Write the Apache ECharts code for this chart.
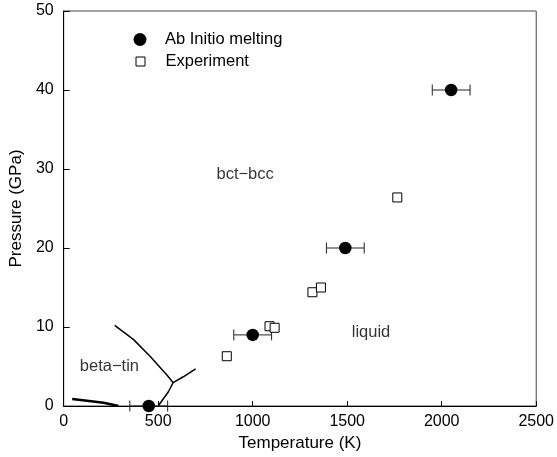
<!DOCTYPE html>
<html>
<head>
<meta charset="utf-8">
<script src="https://cdn.jsdelivr.net/npm/echarts@6/dist/echarts.min.js"></script>
<style>
html,body{margin:0;padding:0;background:#fff;}
#chart{width:557px;height:457px;}
</style>
</head>
<body>
<div id="chart"></div>
<script>
// ---- Data ----
const abInitioT = [450, 1000, 1490, 2050];
const abInitioP = [0, 9, 20, 40];
const abInitioErrT = [100, 100, 100, 100];

const expT = [863, 1089, 1116, 1316, 1361, 1765];
const expP = [6.3, 10.1, 9.9, 14.4, 15.0, 26.4];

// phase boundaries (T in K, P in GPa)
const lineAlphaT = [45, 212, 290];
const lineAlphaP = [0.9, 0.42, 0];
const lineBetaBctT = [270, 370, 458, 546, 579];
const lineBetaBctP = [10.2, 8.4, 6.26, 3.93, 2.96];
const lineBctLiqT = [579, 633, 698];
const lineBctLiqP = [2.96, 3.7, 4.7];
const lineBetaLiqT = [500, 554, 579];
const lineBetaLiqP = [0, 1.8, 2.96];

const regionNames = ['beta\u2212tin', 'bct\u2212bcc', 'liquid'];
const regionT = [242, 960, 1626];
const regionP = [4.95, 29.3, 9.26];

const xTicks = [0, 500, 1000, 1500, 2000, 2500];
const yTicks = [0, 10, 20, 30, 40, 50];

// ---- Build ----
const zip = (a, b) => a.map((v, i) => [v, b[i]]);
const FONT = 'Liberation Sans, Arial, Helvetica, sans-serif';

const lineStyleSeries = (name, T, P, w) => ({
  name: name, type: 'line', data: zip(T, P), showSymbol: false, symbol: 'none',
  lineStyle: { color: '#000', width: w }, silent: true, z: 3, animation: false
});

const chart = echarts.init(document.getElementById('chart'), null, { renderer: 'canvas' });
chart.setOption({
  animation: false,
  backgroundColor: '#fff',
  textStyle: { fontFamily: FONT },
  grid: { left: 63, right: 19, top: 11, bottom: 51, show: true, borderColor: '#444', borderWidth: 1 },
  legend: [
    {
      left: 133.5, top: 31, padding: 0, itemWidth: 13, itemHeight: 13,
      textStyle: { fontFamily: FONT, fontSize: 16.5, color: '#000', padding: [0, 0, 0, 13.5] },
      data: [{ name: 'Ab Initio melting', icon: 'circle', itemStyle: { color: '#000', opacity: 1 } }],
      selectedMode: false
    },
    {
      left: 135.5, top: 53, padding: 0, itemWidth: 9, itemHeight: 9,
      textStyle: { fontFamily: FONT, fontSize: 16.5, color: '#000', padding: [0, 0, 0, 15.5] },
      data: [{ name: 'Experiment', icon: 'rect', itemStyle: { color: '#fff', borderColor: '#000', borderWidth: 1, opacity: 1 } }],
      selectedMode: false
    }
  ],
  xAxis: {
    type: 'value', min: xTicks[0], max: xTicks[xTicks.length - 1], interval: 500,
    name: 'Temperature (K)', nameLocation: 'middle', nameGap: 28,
    nameTextStyle: { fontFamily: FONT, fontSize: 17, color: '#000' },
    axisLine: { lineStyle: { color: '#000', width: 1 } },
    axisTick: { inside: true, length: 5, lineStyle: { color: '#000' } },
    axisLabel: { margin: 8, fontFamily: FONT, fontSize: 16, color: '#000', formatter: v => String(v) },
    splitLine: { show: false }
  },
  yAxis: {
    type: 'value', min: yTicks[0], max: yTicks[yTicks.length - 1], interval: 10,
    name: 'Pressure (GPa)', nameLocation: 'middle', nameGap: 36,
    nameTextStyle: { fontFamily: FONT, fontSize: 17, color: '#000' },
    axisLine: { lineStyle: { color: '#000', width: 1 } },
    axisTick: { inside: true, length: 6, lineStyle: { color: '#000' } },
    axisLabel: { margin: 10, fontFamily: FONT, fontSize: 16, color: '#000', formatter: v => String(v) },
    splitLine: { show: false }
  },
  series: [
    lineStyleSeries('a', lineAlphaT, lineAlphaP, 2.5),
    lineStyleSeries('b', lineBetaBctT, lineBetaBctP, 1.5),
    lineStyleSeries('c', lineBctLiqT, lineBctLiqP, 1.5),
    lineStyleSeries('d', lineBetaLiqT, lineBetaLiqP, 1.5),
    {
      name: 'errorbars', type: 'custom', z: 4, silent: true,
      data: abInitioT.map((t, i) => [t, abInitioP[i], abInitioErrT[i]]),
      renderItem: function (params, api) {
        const t = api.value(0), p = api.value(1), e = api.value(2);
        const a = api.coord([t - e, p]);
        const b = api.coord([t + e, p]);
        const h = 5.5;
        const st = { stroke: '#222', lineWidth: 1 };
        return {
          type: 'group',
          children: [
            { type: 'line', shape: { x1: a[0], y1: a[1], x2: b[0], y2: b[1] }, style: st },
            { type: 'line', shape: { x1: a[0], y1: a[1] - h, x2: a[0], y2: a[1] + h }, style: st },
            { type: 'line', shape: { x1: b[0], y1: b[1] - h, x2: b[0], y2: b[1] + h }, style: st }
          ]
        };
      }
    },
    {
      name: 'Ab Initio melting', type: 'scatter', z: 5,
      data: zip(abInitioT, abInitioP), symbol: 'circle', symbolSize: 12.5,
      itemStyle: { color: '#000', opacity: 1 }
    },
    {
      name: 'Experiment', type: 'scatter', z: 5,
      data: zip(expT, expP), symbol: 'rect', symbolSize: 9,
      itemStyle: { color: '#fff', borderColor: '#000', borderWidth: 1, opacity: 1 }
    },
    {
      name: 'regions', type: 'scatter', z: 6, silent: true,
      data: regionT.map((t, i) => ({ value: [t, regionP[i]], name: regionNames[i] })),
      symbolSize: 0,
      label: {
        show: true, position: 'inside', formatter: '{b}',
        fontFamily: FONT, fontSize: 16.5, color: '#000'
      }
    }
  ]
});
</script>
</body>
</html>
